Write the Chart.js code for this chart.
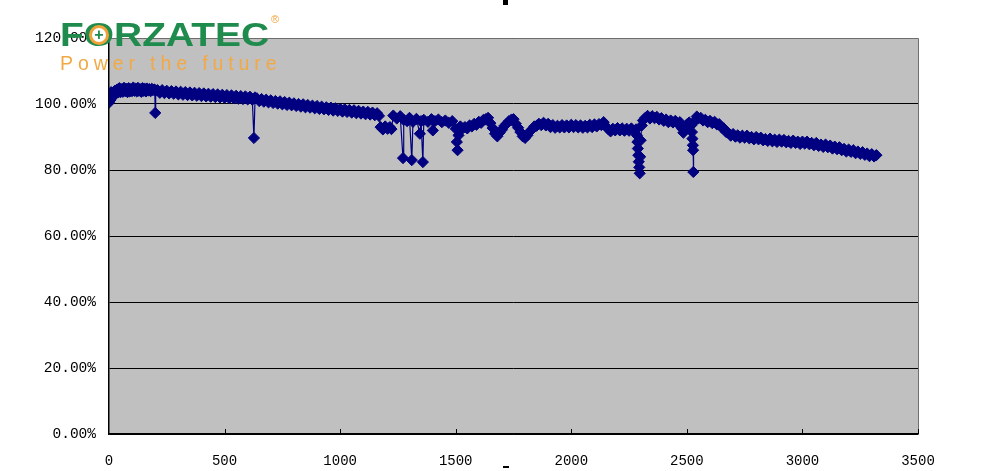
<!DOCTYPE html>
<html><head><meta charset="utf-8">
<script src="https://cdn.jsdelivr.net/npm/chart.js@4.4.1/dist/chart.umd.min.js"></script>
<style>
html,body{margin:0;padding:0;background:#fff;overflow:hidden;}
#wrap{position:relative;width:1000px;height:471px;}
#c{position:absolute;left:0;top:0;}
.logo{position:absolute;left:60px;top:18px;font-family:"Liberation Sans",Arial,sans-serif;font-weight:bold;font-size:33px;color:#1f8b4d;line-height:1;white-space:nowrap;transform:scaleX(1.18);transform-origin:0 0;}
.ring{position:absolute;width:14px;height:14px;border:3px solid #f0a23a;border-radius:50%;background:#fff;}
.plus{position:absolute;font-family:"Liberation Sans",Arial,sans-serif;font-weight:bold;font-size:16px;color:#1f8b4d;line-height:1;}
.reg{position:absolute;left:271px;top:13px;font-family:"Liberation Sans",Arial,sans-serif;font-size:11px;color:#f0a23a;}
.tag{position:absolute;left:60px;top:54px;font-family:"Liberation Sans",Arial,sans-serif;font-size:19.5px;letter-spacing:4.9px;color:#f2a945;line-height:1;white-space:nowrap;}
</style></head>
<body><div id="wrap"><canvas id="c" width="1000" height="471"></canvas>
<div class="logo">F<span id="lo">O</span>RZATEC</div><div class="ring" id="ring"></div><div class="plus" id="plus">+</div><div class="reg">®</div>
<div class="tag">Power the future</div></div>
<script>
const cycles = [
0,3,6,9,12,16,20,25,30,35,40,45,50,55,60,65,70,75,80,85,90,95,100,105,110,115,120,125,130,135,140,145,150,155,160,165,170,175,180,185,190,195,198,200,202,
210,220,230,240,250,260,270,280,290,300,310,320,330,340,350,360,370,380,390,400,410,420,430,440,450,460,470,480,490,500,510,520,530,540,550,560,570,580,590,600,610,620,627,632,
640,650,660,670,680,690,700,710,720,730,740,750,760,770,780,790,800,810,820,830,840,850,860,870,880,890,900,910,920,930,940,950,960,970,980,990,1000,1010,1020,1030,1040,1050,1060,1070,1080,1090,1100,1110,1120,1130,1140,1150,1160,1168,
1175,1185,1195,1205,1215,1222,1230,1245,1260,1272,1275,1290,1300,1310,1315,1330,1345,1350,1358,1362,1380,1395,1401,1410,1425,1440,1455,1470,1485,1500,1505,1508,1512,
1520,1530,1540,1550,1560,1570,1580,1590,1600,1610,1620,1630,1640,1650,1660,1670,1680,1690,1700,1710,1720,1730,1740,1750,1760,1770,1780,1790,1800,1810,1820,1830,1840,1850,
1860,1870,1880,1890,1900,1910,1920,1930,1940,1950,1960,1970,1980,1990,2000,2010,2020,2030,2040,2050,2060,2070,2080,2090,2100,2110,2120,2130,2140,2150,2160,2170,2180,2190,2200,2210,2220,2230,2240,2250,2260,2270,2280,
2284,2286,2288,2290,2292,2294,2296,2298,2300,2305,
2310,2320,2330,2340,2350,2360,2370,2380,2390,2400,2410,2420,2430,2440,2450,2460,2470,2480,2485,2490,2500,2510,2520,
2522,2524,2526,2527,2528,2530,2543,2550,
2560,2570,2580,2590,2600,2610,2620,2630,2640,2650,2660,2670,2680,2690,
2700,2710,2720,2730,2740,2750,2760,2770,2780,2790,2800,2810,2820,2830,2840,2850,2860,2870,2880,2890,2900,2910,2920,2930,2940,2950,2960,2970,2980,2990,3000,3010,3020,3030,3040,3050,3060,3070,3080,3090,3100,3110,3120,3130,3140,3150,3160,3170,3180,3190,3200,3210,3220,3230,3240,3250,3260,3270,3280,3290,3300,3310,3320
];
const capacity = [
100.4,102.8,101.2,103.6,102.0,103.2,102.6,104.0,103.1,104.4,103.5,104.8,103.6,104.5,103.7,104.9,103.9,104.6,103.6,104.8,103.8,104.5,103.9,105.0,104.0,104.6,103.8,104.9,104.0,104.5,103.7,104.8,104.0,104.6,103.8,104.7,104.1,104.5,103.9,104.6,104.2,104.4,104.3,97.3,104.1,
104.2,103.4,104.2,103.3,104.0,103.2,103.9,103.1,103.8,102.9,103.7,102.8,103.6,102.7,103.5,102.6,103.4,102.5,103.3,102.4,103.2,102.3,103.1,102.2,103.0,102.1,102.9,102.0,102.8,101.9,102.7,101.8,102.6,101.7,102.5,101.6,102.4,101.5,102.3,101.4,102.2,101.3,89.7,102.0,
101.7,100.9,101.5,100.7,101.3,100.5,101.1,100.3,100.9,100.1,100.8,99.9,100.6,99.7,100.4,99.6,100.2,99.4,100.0,99.2,99.9,99.0,99.7,98.9,99.5,98.7,99.4,98.5,99.2,98.4,99.0,98.2,98.9,98.0,98.7,97.9,98.5,97.7,98.4,97.6,98.2,97.4,98.1,97.2,97.9,97.1,97.7,96.9,97.6,96.8,97.4,96.6,97.2,96.4,
93.0,92.3,93.2,92.5,93.0,92.4,96.5,95.6,96.3,83.6,95.2,94.8,95.8,83.0,94.6,95.5,91.0,94.8,82.4,95.2,94.6,95.4,92.0,94.8,95.3,94.5,95.0,94.3,94.8,92.5,88.5,86.0,90.5,
93.2,92.6,93.0,92.6,93.5,93.2,94.0,93.7,94.6,94.3,95.2,95.4,95.8,94.2,92.7,91.0,90.2,91.3,92.2,93.3,94.0,94.8,95.2,95.4,94.0,92.8,91.5,90.2,89.7,90.5,91.6,92.3,93.2,93.4,
94.0,93.6,94.3,93.5,94.0,93.0,93.6,92.8,93.4,92.9,93.6,92.9,93.5,92.9,93.7,93.0,93.6,92.9,93.5,92.8,93.4,92.9,93.7,93.0,93.8,93.2,93.9,93.6,94.5,93.2,92.4,91.7,92.5,92.0,92.7,92.0,92.6,91.9,92.5,91.9,92.6,91.9,92.3,
90.5,88.5,86.5,84.5,82.5,80.8,79.0,84.0,89.0,93.5,
95.0,95.8,96.4,95.6,96.3,95.7,96.1,95.3,95.7,94.9,95.3,94.5,95.0,94.4,94.9,94.1,94.5,92.5,91.3,92.6,93.8,94.4,93.6,
91.5,89.5,87.5,86.0,79.4,94.5,96.2,95.6,
95.8,95.0,95.2,94.5,94.9,94.2,94.6,93.8,93.9,92.9,92.6,91.5,91.2,90.4,
90.9,90.1,90.5,89.8,90.4,89.8,90.4,89.6,90.0,89.3,90.0,89.3,89.8,89.0,89.4,88.8,89.5,88.7,89.2,88.5,89.2,88.6,89.1,88.4,88.8,88.2,88.9,88.2,88.6,87.9,88.6,88.0,88.6,87.8,88.2,87.5,88.2,87.3,87.7,87.0,87.7,86.9,87.4,86.5,87.1,86.3,86.9,86.0,86.4,85.6,86.2,85.5,86.0,85.1,85.6,84.9,85.4,84.6,85.0,84.2,84.8,84.1,84.5
];
const yTicks = [0,20,40,60,80,100,120];
const xTicks = [0,500,1000,1500,2000,2500,3000,3500];

const deco = {
  id:'deco',
  beforeDraw(chart){
    const {ctx, chartArea:a} = chart;
    ctx.save();
    ctx.fillStyle='#fff'; ctx.fillRect(0,0,chart.width,chart.height);
    ctx.fillStyle='#c0c0c0'; ctx.fillRect(a.left,a.top,a.right-a.left,a.bottom-a.top);
    ctx.restore();
  },
  afterDraw(chart){
    const {ctx, chartArea:a, scales} = chart;
    ctx.save();
    ctx.strokeStyle='#6e6e6e'; ctx.lineWidth=1;
    ctx.beginPath();
    ctx.moveTo(a.left,a.top+0.5); ctx.lineTo(a.right+0.5,a.top+0.5); ctx.lineTo(a.right+0.5,a.bottom);
    ctx.stroke();
    ctx.strokeStyle='#000';
    ctx.beginPath();
    xTicks.slice(1).forEach(v=>{const px=Math.round(scales.x.getPixelForValue(v))+0.5; ctx.moveTo(px,a.bottom); ctx.lineTo(px,a.bottom-5);});
    ctx.stroke();
    ctx.fillStyle='#000';
    ctx.fillRect(503,0,5,5);
    ctx.fillRect(503,466,6,2);
    ctx.restore();
  }
};

new Chart(document.getElementById('c'), {
  type:'line',
  data:{datasets:[{
    data: cycles.map((c,i)=>({x:c,y:capacity[i]})),
    borderColor:'#000080', backgroundColor:'#000080', borderWidth:1.2,
    pointStyle:'rectRot', pointRadius:5.6, pointBorderWidth:1,
    pointBackgroundColor:'#000080', pointBorderColor:'#000080', tension:0, fill:false
  }]},
  options:{
    responsive:false, animation:false, devicePixelRatio:1,
    layout:{padding:{top:38,right:82,left:0,bottom:0}},
    plugins:{legend:{display:false}, tooltip:{enabled:false}},
    scales:{
      x:{type:'linear', min:0, max:3500,
         afterFit(s){s.height=37;},
         afterBuildTicks(s){s.ticks=xTicks.map(v=>({value:v}));},
         grid:{display:false, drawTicks:false},
         border:{display:true,color:'#000',width:1.5},
         ticks:{padding:19,color:'#000',font:{family:'"Liberation Mono", monospace',size:14},maxRotation:0,autoSkip:false,
                callback:v=>String(v)}},
      y:{type:'linear', min:0, max:120,
         afterFit(s){s.width=109;},
         afterBuildTicks(s){s.ticks=yTicks.map(v=>({value:v}));},
         grid:{color:'#000', lineWidth:1, drawTicks:false},
         border:{display:true,color:'#000',width:1.5},
         ticks:{padding:13,color:'#000',font:{family:'"Liberation Mono", monospace',size:14.5},
                callback:v=>v.toFixed(2)+'%'}}
    }
  },
  plugins:[deco]
});

const o=document.getElementById('lo').getBoundingClientRect();
const cx=o.left+o.width/2, cy=o.top+o.height*0.52;
const ring=document.getElementById('ring'); ring.style.left=(cx-10)+'px'; ring.style.top=(cy-10)+'px';
const plus=document.getElementById('plus'); const pr=plus.getBoundingClientRect();
plus.style.left=(cx-pr.width/2)+'px'; plus.style.top=(cy-pr.height/2)+'px';
</script></body></html>
